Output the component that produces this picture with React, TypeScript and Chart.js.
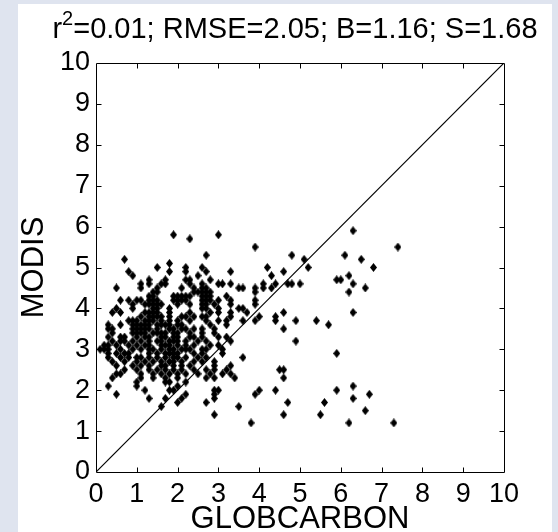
import React, { useEffect, useRef } from "react";
import { Chart, registerables } from "chart.js";

Chart.register(...registerables);

const titleBase = "r";
const titleSup = "2";
const titleRest = "=0.01; RMSE=2.05; B=1.16; S=1.68";
const xAxisTitle = "GLOBCARBON";
const yAxisTitle = "MODIS";
const axisMin = 0;
const axisMax = 10;
const tickStep = 1;

// 1:1 reference line
const identityX = [0, 10];
const identityY = [0, 10];

// MODIS values (rows) and the GLOBCARBON values observed on each row
const modisLevels = [
  5.9, 5.8, 5.7, 5.5, 5.3, 5.2, 5.1, 5.0, 4.9, 4.8, 4.7, 4.6, 4.5, 4.4, 4.3,
  4.2, 4.1, 4.0, 3.9, 3.8, 3.7, 3.6, 3.5, 3.4, 3.3, 3.2, 3.1, 3.0, 2.9, 2.8,
  2.7, 2.6, 2.5, 2.4, 2.3, 2.2, 2.1, 2.0, 1.9, 1.8, 1.7, 1.6, 1.5, 1.4, 1.2,
];
const globcarbonByLevel = [
  [6.3],
  [1.9, 3.0],
  [2.3],
  [3.9, 7.4],
  [2.7, 4.8, 6.1],
  [0.7, 5.1, 6.5],
  [1.8],
  [1.5, 2.2, 2.6, 4.2, 5.2, 6.8],
  [0.8, 1.8, 2.2, 2.7, 3.3, 4.6],
  [0.9, 2.5, 4.3, 6.2],
  [1.3, 1.7, 2.2, 2.3, 2.8, 5.9, 6.0],
  [1.1, 1.3, 1.6, 1.7, 2.3, 2.6, 3.0, 3.1, 3.3, 4.1, 4.4, 4.7, 4.8, 5.0, 6.3],
  [0.5, 1.1, 1.5, 2.1, 2.4, 2.6, 2.7, 3.5, 3.6, 3.9, 4.1, 4.3, 6.6],
  [1.4, 1.5, 2.4, 2.5, 2.6, 2.7, 2.8, 3.9, 6.2],
  [1.3, 1.4, 1.9, 2.0, 2.1, 2.2, 2.3, 2.6, 2.7, 2.8, 3.2],
  [0.6, 0.8, 1.0, 1.1, 1.3, 1.4, 1.5, 1.9, 2.0, 2.1, 2.2, 2.6, 2.7, 2.8, 3.0, 3.3, 3.9],
  [0.9, 1.2, 1.3, 1.4, 1.5, 1.6, 2.0, 2.3, 2.6, 2.7, 2.9, 3.3, 3.9],
  [0.5, 0.9, 1.4, 1.5, 1.8, 2.6, 2.7, 3.0, 3.5, 3.6],
  [0.4, 0.6, 1.2, 1.3, 1.4, 1.5, 1.8, 2.3, 2.8, 3.0, 3.3, 3.7, 4.6, 6.3],
  [1.1, 1.3, 1.4, 1.5, 1.6, 1.8, 2.1, 2.2, 2.4, 2.6, 2.7, 3.3, 4.0, 4.4],
  [0.8, 0.9, 1.0, 1.2, 1.3, 1.4, 1.6, 1.8, 2.0, 2.3, 2.7, 3.0, 3.2, 3.6, 3.9, 4.4, 4.9, 5.4],
  [0.3, 0.6, 0.9, 1.0, 1.1, 1.2, 1.3, 1.5, 1.6, 1.7, 1.8, 2.0, 2.1, 2.8, 3.2, 5.7],
  [0.3, 0.4, 0.9, 1.0, 1.1, 1.2, 1.3, 1.5, 1.8, 1.9, 2.1, 2.2, 2.4, 2.6, 2.9, 4.6],
  [0.4, 0.9, 1.0, 1.1, 1.2, 1.4, 1.5, 1.6, 1.7, 1.9, 2.0, 2.3, 2.6, 2.9],
  [0.3, 0.6, 0.7, 1.0, 1.2, 1.3, 1.6, 1.7, 1.9, 2.0, 2.3, 2.4, 2.6, 3.0, 3.2],
  [0.4, 0.6, 0.7, 0.9, 1.1, 1.3, 1.5, 1.6, 1.8, 1.9, 2.0, 2.2, 2.5, 2.7, 3.3, 4.9],
  [0.2, 0.3, 0.5, 0.8, 1.0, 1.2, 1.3, 1.6, 1.7, 1.8, 2.0, 2.2, 2.4, 2.8, 3.0],
  [0.1, 0.2, 0.3, 0.6, 0.9, 1.1, 1.3, 1.4, 1.6, 1.8, 1.9, 2.1, 2.2, 2.3, 2.6, 2.7, 3.1],
  [0.3, 0.5, 0.7, 0.8, 1.3, 1.5, 1.7, 1.8, 1.9, 2.0, 2.4, 2.6, 3.1, 5.9],
  [0.3, 0.6, 0.8, 1.0, 1.1, 1.3, 1.5, 1.7, 1.9, 2.0, 2.2, 2.5, 2.7, 3.6],
  [0.4, 0.7, 1.0, 1.2, 1.4, 1.6, 1.8, 1.9, 2.1, 2.4, 2.6, 2.9],
  [0.5, 0.9, 1.1, 1.3, 1.6, 1.7, 1.9, 2.1, 2.3, 2.9, 3.3],
  [0.7, 1.0, 1.3, 1.5, 1.7, 1.9, 2.1, 2.4, 2.7, 2.9, 3.2, 4.5, 4.6],
  [0.5, 0.6, 1.1, 1.4, 1.6, 1.8, 2.0, 2.2, 2.5, 2.8, 3.1, 3.3],
  [0.4, 1.1, 1.4, 1.7, 2.0, 2.7, 2.9, 3.4, 4.6],
  [1.0, 1.7, 1.8, 2.2],
  [0.3, 1.0, 2.0, 6.3],
  [1.2, 1.8, 1.9, 2.9, 3.0, 4.0, 4.4, 5.9],
  [0.5, 2.2, 2.9, 3.9, 6.7],
  [1.3, 1.7, 2.1, 2.9, 6.3],
  [2.0, 2.7, 4.7, 5.6],
  [1.6, 3.5],
  [6.6],
  [2.9, 4.6, 5.5],
  [3.8, 6.2, 7.3],
];

const FONT = "'Liberation Sans', Arial, Helvetica, sans-serif";
const PAGE_BG = "#dfe4ef";

function makeDiamond(): HTMLCanvasElement {
  const c = document.createElement("canvas");
  c.width = 7;
  c.height = 9;
  const g = c.getContext("2d")!;
  g.fillStyle = "#000";
  g.beginPath();
  g.moveTo(3.5, 0);
  g.lineTo(7, 4.5);
  g.lineTo(3.5, 9);
  g.lineTo(0, 4.5);
  g.closePath();
  g.fill();
  return c;
}

const decorPlugin = {
  id: "decor",
  beforeDraw(chart: any) {
    const { ctx, width, height } = chart;
    ctx.save();
    ctx.fillStyle = PAGE_BG;
    ctx.fillRect(0, 0, width, height);
    ctx.fillStyle = "#ffffff";
    ctx.fillRect(18, 4, 534, height - 4);
    ctx.restore();
  },
  afterDraw(chart: any) {
    const { ctx, chartArea, scales } = chart;
    const { left, right, top, bottom } = chartArea;
    const xs = scales.x;
    const ys = scales.y;
    ctx.save();
    ctx.strokeStyle = "#000";
    ctx.lineWidth = 1;
    const L = Math.round(left) + 0.5;
    const R = Math.round(right) + 0.5;
    const T = Math.round(top) + 0.5;
    const B = Math.round(bottom) + 0.5;
    ctx.beginPath();
    ctx.moveTo(L, T);
    ctx.lineTo(R, T);
    ctx.lineTo(R, B);
    ctx.lineTo(L, B);
    ctx.closePath();
    ctx.stroke();
    const tl = 5;
    ctx.beginPath();
    for (let v = axisMin + tickStep; v < axisMax; v += tickStep) {
      const px = Math.round(xs.getPixelForValue(v)) + 0.5;
      ctx.moveTo(px, B);
      ctx.lineTo(px, B - tl);
      ctx.moveTo(px, T);
      ctx.lineTo(px, T + tl);
      const py = Math.round(ys.getPixelForValue(v)) + 0.5;
      ctx.moveTo(L, py);
      ctx.lineTo(L + tl, py);
      ctx.moveTo(R, py);
      ctx.lineTo(R - tl, py);
    }
    ctx.stroke();

    ctx.fillStyle = "#000";
    ctx.textBaseline = "alphabetic";

    // main title with superscript
    const bigFont = `29px ${FONT}`;
    const supFont = `20px ${FONT}`;
    ctx.font = bigFont;
    const wBase = ctx.measureText(titleBase).width;
    const wRest = ctx.measureText(titleRest).width;
    ctx.font = supFont;
    const wSup = ctx.measureText(titleSup).width;
    const total = wBase + wSup + wRest;
    let tx = 295 - total / 2;
    const baseY = 38;
    ctx.textAlign = "left";
    ctx.font = bigFont;
    ctx.fillText(titleBase, tx, baseY);
    tx += wBase;
    ctx.font = supFont;
    ctx.fillText(titleSup, tx, baseY - 13);
    tx += wSup;
    ctx.font = bigFont;
    ctx.fillText(titleRest, tx, baseY);

    ctx.textAlign = "center";
    ctx.font = `31px ${FONT}`;
    ctx.fillText(xAxisTitle, (left + right) / 2, 528);

    ctx.translate(43, (top + bottom) / 2);
    ctx.rotate(-Math.PI / 2);
    ctx.fillText(yAxisTitle, 0, 0);
    ctx.restore();
  },
};

export default function App() {
  const canvasRef = useRef<HTMLCanvasElement | null>(null);

  useEffect(() => {
    if (!canvasRef.current) return;
    const points = modisLevels.flatMap((yv, i) =>
      globcarbonByLevel[i].map((xv) => ({ x: xv, y: yv }))
    );
    const line = identityX.map((xv, i) => ({ x: xv, y: identityY[i] }));
    const diamond = makeDiamond();

    const tickFont = { family: FONT, size: 27 };
    const chart = new Chart(canvasRef.current, {
      type: "scatter",
      data: {
        datasets: [
          {
            type: "line",
            data: line,
            borderColor: "#000",
            borderWidth: 1.2,
            pointRadius: 0,
            fill: false,
            order: 2,
          } as any,
          {
            data: points,
            pointStyle: diamond as any,
            pointRadius: 4,
            backgroundColor: "#000",
            borderColor: "#000",
            order: 1,
          },
        ],
      },
      options: {
        responsive: false,
        animation: false,
        events: [],
        layout: { padding: { left: 0, top: 63, right: 54, bottom: 0 } },
        plugins: {
          legend: { display: false },
          title: { display: false },
          tooltip: { enabled: false },
        },
        scales: {
          x: {
            type: "linear",
            min: axisMin,
            max: axisMax,
            ticks: {
              stepSize: tickStep,
              font: tickFont,
              color: "#000",
              padding: 6,
              maxRotation: 0,
              autoSkip: false,
            },
            grid: { display: false, drawTicks: false },
            border: { display: false },
            afterFit: (s: any) => {
              s.height = 60;
            },
          },
          y: {
            type: "linear",
            min: axisMin,
            max: axisMax,
            ticks: {
              stepSize: tickStep,
              font: tickFont,
              color: "#000",
              padding: 6,
              autoSkip: false,
            },
            grid: { display: false, drawTicks: false },
            border: { display: false },
            afterFit: (s: any) => {
              s.width = 96;
            },
          },
        },
      },
      plugins: [decorPlugin],
    });
    return () => chart.destroy();
  }, []);

  return (
    <div
      style={{
        position: "fixed",
        left: 0,
        top: 0,
        width: 558,
        height: 532,
        background: PAGE_BG,
      }}
    >
      <canvas
        ref={canvasRef}
        width={558}
        height={532}
        style={{ display: "block", width: 558, height: 532 }}
      />
    </div>
  );
}
